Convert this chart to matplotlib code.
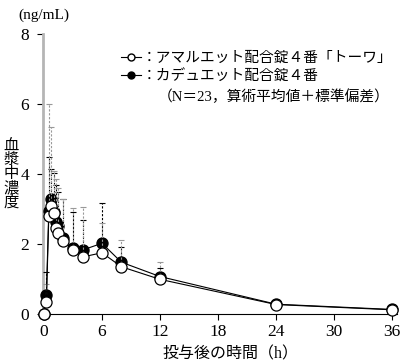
import numpy as np
import matplotlib; matplotlib.use("Agg")
import matplotlib.pyplot as plt
from matplotlib.lines import Line2D

plt.rcParams['font.family'] = ['Liberation Serif', 'Noto Sans CJK JP']

t = [0, 0.25, 0.5, 0.75, 1, 1.25, 1.5, 2, 3, 4, 6, 8, 12, 24, 36]
# アマルエット配合錠4番「トーワ」 (open)
open_mean = [0, 0.35, 2.8, 3.1, 2.88, 2.47, 2.32, 2.1, 1.83, 1.63, 1.75, 1.35, 0.99, 0.27, 0.12]
open_sd = [0, 0.5, 3.2, 2.23, 1.22, 1.38, 1.28, 1.2, 1.19, 1.42, 0.85, 0.77, 0.5, 0.08, 0.03]
# カデュエット配合錠4番 (filled)
fill_mean = [0, 0.55, 2.95, 3.28, 2.92, 2.64, 2.51, 2.16, 1.88, 1.83, 2.02, 1.48, 1.07, 0.28, 0.13]
fill_sd = [0, 0.65, 1.55, 0.87, 1.1, 1.06, 0.99, 1.14, 1.04, 0.85, 1.16, 0.44, 0.25, 0.05, 0.02]

fig = plt.figure(figsize=(4, 3.63), dpi=100)
ax = fig.add_axes([43/400, 1 - 314/363, 354/400, 280/363])

def draw(mean, sd, face, ecol, z):
    lo = np.zeros(len(sd))
    eb = ax.errorbar(t, mean, yerr=[lo, sd], fmt="none", ecolor=ecol, elinewidth=0.8,
                     capsize=2, capthick=0.8, zorder=z)
    eb[2][0].set_linestyle((0, (2, 1.5)))
    ax.plot(t, mean, "-", color="black", lw=0.8, marker="o", ms=8, mfc=face, mec="black",
            mew=0.9, zorder=z + 1, clip_on=False)

draw(fill_mean, fill_sd, "black", "black", 3)
draw(open_mean, open_sd, "white", "#999999", 5)

ax.set_xlim(-0.1, 36.5)
ax.set_ylim(0, 8)
ax.set_xticks([0, 6, 12, 18, 24, 30, 36])
ax.set_yticks([0, 2, 4, 6, 8])
for s in ["top", "right"]:
    ax.spines[s].set_visible(False)
ax.spines["left"].set_color("#b5b5b5")
ax.spines["left"].set_linewidth(2)
ax.spines["bottom"].set_linewidth(0.8)
ax.tick_params(axis="both", labelsize=12.5, length=4, width=0.8, color="black")
ax.tick_params(axis="y", pad=6)

fig.text(44/400, 1 - 15/363, "(ng/mL)", ha="center", va="center", fontsize=11)
fig.text(11/400, 1 - 175/363, "血\n漿\n中\n濃\n度", ha="center", va="center",
         fontsize=11, linespacing=1.0)
fig.text(230/400, 1 - 354/363, "投与後の時間（h）", ha="center", va="center", fontsize=11.5)

handles = [Line2D([], [], color="black", lw=0.8, marker="o", ms=5, mfc="white", mec="black"),
           Line2D([], [], color="black", lw=0.8, marker="o", ms=5, mfc="black", mec="black")]
labels = ["：アマルエット配合錠４番「トーワ」", "：カデュエット配合錠４番"]
fig.legend(handles, labels, loc="upper left", bbox_to_anchor=(114/400, 1 - 44/363), frameon=False,
           fontsize=10.6, handlelength=1.3, handletextpad=0.1, labelspacing=0.3, borderpad=0)
fig.text(158/400, 1 - 97/363, "（N＝23，算術平均値＋標準偏差）", ha="left", va="center", fontsize=10.6)

plt.savefig("out.png", dpi=100)
